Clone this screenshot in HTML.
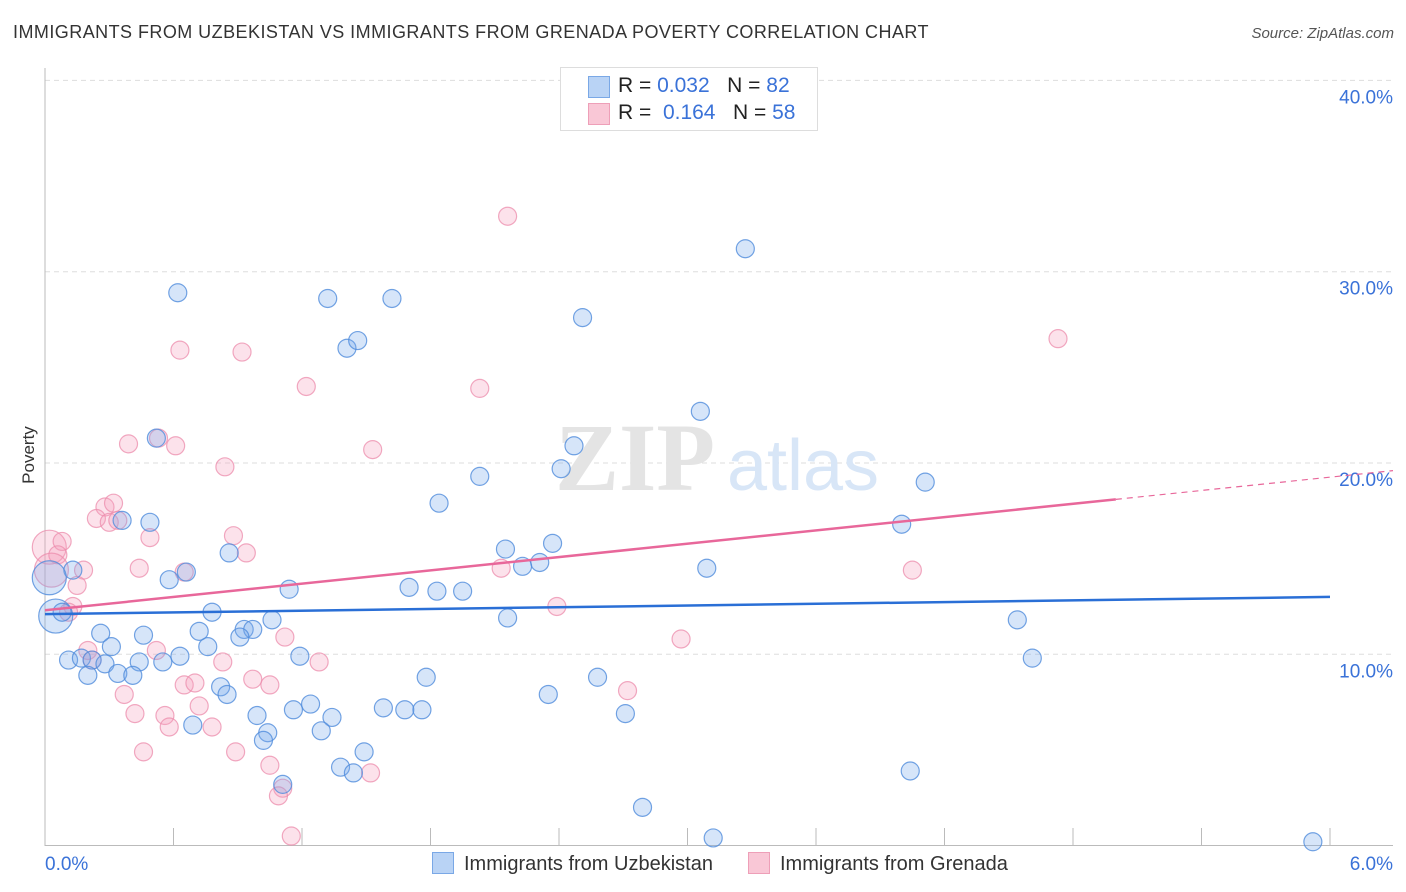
<!DOCTYPE html>
<html><head><meta charset="utf-8">
<style>
body{margin:0;background:#fff;font-family:"Liberation Sans",sans-serif;}
#wrap{position:relative;width:1406px;height:892px;overflow:hidden;}
.t{position:absolute;white-space:nowrap;}
</style></head>
<body>
<div id="wrap">
<div class="t" style="left:13px;top:22px;font-size:18px;letter-spacing:0.45px;color:#333;">IMMIGRANTS FROM UZBEKISTAN VS IMMIGRANTS FROM GRENADA POVERTY CORRELATION CHART</div>
<div class="t" style="right:12px;top:25px;font-size:15px;color:#555;font-style:italic;">Source: ZipAtlas.com</div>
<div class="t" style="left:0px;top:445px;font-size:17px;color:#333;transform:rotate(-90deg);transform-origin:center;">Poverty</div>
<svg id="svg" width="1406" height="892" style="position:absolute;left:0;top:0"></svg>
<div style="position:absolute;left:560px;top:67px;width:256px;height:62px;border:1px solid #ddd;background:#fff;font-size:21px;">
 <div style="position:absolute;left:27px;top:8px;width:20px;height:20px;background:#b9d3f5;border:1px solid #7aa8e6;"></div>
 <div class="t" style="left:57px;top:6px;color:#222;">R = <span style="color:#3a72d8">0.032</span>&nbsp;&nbsp;&nbsp;N = <span style="color:#3a72d8">82</span></div>
 <div style="position:absolute;left:27px;top:35px;width:20px;height:20px;background:#f9c7d6;border:1px solid #ee9fb8;"></div>
 <div class="t" style="left:57px;top:33px;color:#222;">R = &nbsp;<span style="color:#3a72d8">0.164</span>&nbsp;&nbsp;&nbsp;N = <span style="color:#3a72d8">58</span></div>
</div>
<div class="t" style="left:432px;top:852px;font-size:20px;color:#333;"><span style="display:inline-block;width:20px;height:20px;background:#b9d3f5;border:1px solid #7aa8e6;vertical-align:-4px;margin-right:10px;"></span>Immigrants from Uzbekistan</div>
<div class="t" style="left:748px;top:852px;font-size:20px;color:#333;"><span style="display:inline-block;width:20px;height:20px;background:#f9c7d6;border:1px solid #ee9fb8;vertical-align:-4px;margin-right:10px;"></span>Immigrants from Grenada</div>
</div>
<script>
const xTicksLabels=["0.0%","6.0%"];
const yTicks=[10,20,30,40];
const blueX=[0.62,1.32,1.62,1.41,1.46,2.51,3.27,3.06,0.52,2.47,2.03,2.41,1.84,4.11,0.49,0.36,4.00,0.86,2.37,2.15,2.31,2.23,3.09,0.13,0.02,0.66,0.58,1.14,1.70,1.83,1.95,0.05,0.08,0.78,1.06,2.16,4.54,0.26,0.46,0.72,0.93,0.97,0.91,0.31,0.76,0.63,0.11,0.17,0.22,0.28,0.44,0.55,1.19,4.61,0.20,0.34,0.41,1.78,2.58,0.82,0.85,2.35,1.24,1.16,1.58,1.68,1.76,0.99,1.34,2.71,0.69,1.29,1.04,1.02,1.49,1.38,1.44,4.04,1.11,2.79,3.12,5.92];
const blueY=[28.9,28.6,28.6,26.0,26.4,27.6,31.2,22.7,21.3,20.9,19.3,19.7,17.9,19.0,16.9,17.0,16.8,15.3,15.8,15.5,14.8,14.6,14.5,14.4,14.0,14.3,13.9,13.4,13.5,13.3,13.3,12.0,12.2,12.2,11.8,11.9,11.8,11.1,11.0,11.2,11.3,11.3,10.9,10.4,10.4,9.9,9.7,9.8,9.7,9.5,9.6,9.6,9.9,9.8,8.9,9.0,8.9,8.8,8.8,8.3,7.9,7.9,7.4,7.1,7.2,7.1,7.1,6.8,6.7,6.9,6.3,6.0,5.9,5.5,4.9,4.1,3.8,3.9,3.2,2.0,0.4,0.2];
const blueBig=[24,31];
const pinkX=[2.16,0.63,0.92,4.73,1.22,2.03,0.39,0.53,0.61,1.53,0.84,0.28,0.32,0.24,0.30,0.34,0.02,0.08,0.06,0.49,0.88,0.94,0.03,0.18,0.44,0.65,0.15,2.13,4.05,0.13,0.11,2.39,1.12,2.97,0.20,0.52,0.22,1.28,0.83,0.97,0.65,0.70,1.05,2.72,0.37,0.72,0.42,0.56,0.58,0.78,0.46,0.89,1.05,1.52,1.11,1.09,1.15];
const pinkY=[32.9,25.9,25.8,26.5,24.0,23.9,21.0,21.3,20.9,20.7,19.8,17.7,17.9,17.1,16.9,17.0,15.6,15.9,15.2,16.1,16.2,15.3,14.4,14.4,14.5,14.3,13.6,14.5,14.4,12.5,12.2,12.5,10.9,10.8,10.2,10.2,9.7,9.6,9.6,8.7,8.4,8.5,8.4,8.1,7.9,7.3,6.9,6.8,6.2,6.2,4.9,4.9,4.2,3.8,3.0,2.6,0.5];
const pinkBig=[16,22];
const blueTrend=[12.1,0.15];
const pinkTrend=[12.3,1.16];
const X0=45,X1=1330,Y0=845.6,PY=19.13;
const sx=v=>X0+(X1-X0)*v/6;
const sy=v=>Y0-PY*v;
const svg=document.getElementById('svg');
const NS='http://www.w3.org/2000/svg';
function mk(t,a){const e=document.createElementNS(NS,t);for(const k in a)e.setAttribute(k,a[k]);svg.appendChild(e);return e;}
yTicks.forEach(v=>{
 const l=mk('line',{x1:45,x2:1393,y1:sy(v),y2:sy(v),stroke:'#ddd','stroke-dasharray':'5,4'});
 
 
 const t=mk('text',{x:1393,y:sy(v)+23,'text-anchor':'end','font-size':19,fill:'#3a72d8','font-family':'Liberation Sans'});
 t.textContent=v.toFixed(1)+'%';
 
 
});
const ax=mk('line',{x1:45,x2:45,y1:68,y2:846,stroke:'#bbb'});


const bx=mk('line',{x1:45,x2:1393,y1:845.5,y2:845.5,stroke:'#bbb'});


for(let i=1;i<=10;i++){
 const tk=mk('line',{x1:sx(i*0.6),x2:sx(i*0.6),y1:828,y2:846,stroke:'#bbb'});
 
 
}
[[0,45,'start'],[1,1393,'end']].forEach(([i,x,a])=>{
 const t=mk('text',{x:x,y:870,'text-anchor':a,'font-size':19,fill:'#3a72d8','font-family':'Liberation Sans'});
 t.textContent=xTicksLabels[i];
 
 
});
const w1=mk('text',{x:635,y:490,'text-anchor':'middle','font-size':96,fill:'#e4e4e4','font-family':'Liberation Serif','font-weight':'bold'});
w1.textContent='ZIP';


const w2=mk('text',{x:803,y:490,'text-anchor':'middle','font-size':72,fill:'#d8e6f7','font-family':'Liberation Sans'});
w2.textContent='atlas';


function dots(xs,ys,big,fill,stroke,name){
 xs.forEach((x,i)=>{
  const c=mk('circle',{cx:sx(x),cy:sy(ys[i]),r:big.includes(i)?17:9,fill:fill,stroke:stroke,'stroke-width':1.2});
  
  
 });
}
dots(pinkX,pinkY,pinkBig,'rgba(244,160,188,0.3)','rgba(236,140,172,0.75)','grenada-point');
dots(blueX,blueY,blueBig,'rgba(120,170,235,0.3)','rgba(80,140,220,0.8)','uzbekistan-point');
const bl=mk('line',{x1:sx(0),x2:sx(6),y1:sy(blueTrend[0]),y2:sy(blueTrend[0]+6*blueTrend[1]),stroke:'#2a6fd6','stroke-width':2.5});


const pl=mk('line',{x1:sx(0),x2:sx(5),y1:sy(pinkTrend[0]),y2:sy(pinkTrend[0]+5*pinkTrend[1]),stroke:'#e8679a','stroke-width':2.5});


const pd=mk('line',{x1:sx(5),x2:1393,y1:sy(pinkTrend[0]+5*pinkTrend[1]),y2:sy(pinkTrend[0]+pinkTrend[1]*(1393-X0)*6/(X1-X0)),stroke:'#e8679a','stroke-width':1.2,'stroke-dasharray':'6,5'});


</script>
</body></html>
